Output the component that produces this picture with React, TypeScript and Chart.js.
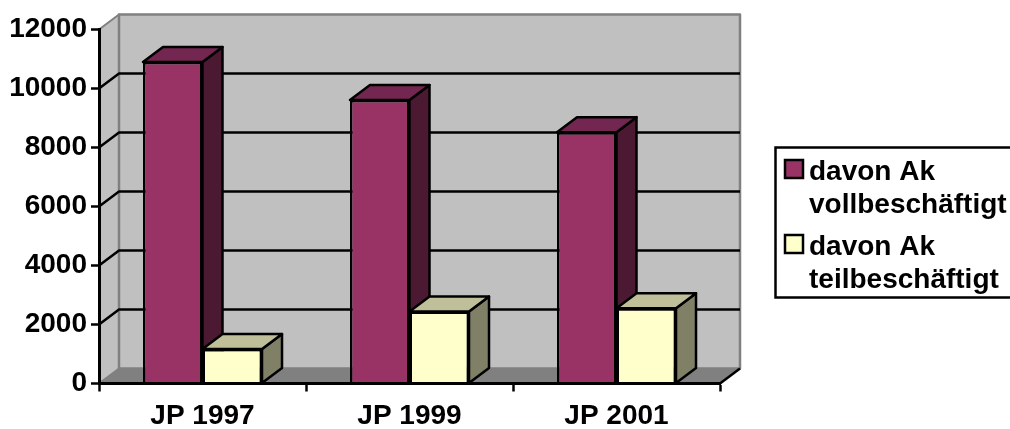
import React, { useEffect, useRef } from "react";
import { Chart, registerables } from "chart.js";

Chart.register(...registerables);

const categories = ["JP 1997", "JP 1999", "JP 2001"];
const vollbeschaeftigt = [10900, 9610, 8520];
const teilbeschaeftigt = [1170, 2440, 2550];
const legendLabels = [
  ["davon Ak", "vollbeschäftigt"],
  ["davon Ak", "teilbeschäftigt"],
];
const FONT = '"Liberation Sans", Arial, sans-serif';
const DX = 20;
const DY = -15;
const faces = [
  { front: "#993366", side: "#4C1933", top: "#732650" },
  { front: "#FFFFCC", side: "#808066", top: "#BFBF99" },
];

function poly(ctx: CanvasRenderingContext2D, pts: number[][], fill: string, stroke: string, lw: number) {
  ctx.beginPath();
  pts.forEach((p, i) => (i ? ctx.lineTo(p[0], p[1]) : ctx.moveTo(p[0], p[1])));
  ctx.closePath();
  ctx.fillStyle = fill;
  ctx.fill();
  ctx.lineWidth = lw;
  ctx.strokeStyle = stroke;
  ctx.lineJoin = "round";
  ctx.stroke();
}

const depthPlugin = {
  id: "depth",
  beforeDatasetsDraw(chart: any) {
    const { ctx, chartArea: a, scales } = chart;
    const y = scales.y;
    ctx.save();
    // floor
    poly(ctx, [[a.left, a.bottom], [a.right, a.bottom], [a.right + DX, a.bottom + DY], [a.left + DX, a.bottom + DY]], "#808080", "#808080", 1);
    // side wall
    poly(ctx, [[a.left, a.bottom], [a.left + DX, a.bottom + DY], [a.left + DX, a.top + DY], [a.left, a.top]], "#C0C0C0", "#808080", 2);
    // back wall
    poly(ctx, [[a.left + DX, a.top + DY], [a.right + DX, a.top + DY], [a.right + DX, a.bottom + DY], [a.left + DX, a.bottom + DY]], "#C0C0C0", "#808080", 2.5);
    // grid lines
    y.ticks.forEach((t: any) => {
      if (t.value === 0 || t.value === y.max) return;
      const py = y.getPixelForValue(t.value);
      ctx.beginPath();
      ctx.moveTo(a.left, py);
      ctx.lineTo(a.left + DX, py + DY);
      ctx.lineTo(a.right + DX, py + DY);
      ctx.lineWidth = 2.5;
      ctx.strokeStyle = "#000";
      ctx.stroke();
    });
    // floor right edge
    ctx.beginPath();
    ctx.moveTo(a.right, a.bottom);
    ctx.lineTo(a.right + DX, a.bottom + DY);
    ctx.lineWidth = 2.5;
    ctx.strokeStyle = "#000";
    ctx.stroke();
    // bar depth faces
    categories.forEach((_, j) => {
      [0, 1].forEach((d) => {
        const el = chart.getDatasetMeta(d).data[j];
        const l = el.x - el.width / 2;
        const r = el.x + el.width / 2;
        const t = el.y;
        const b = el.base;
        poly(ctx, [[r, t], [r + DX, t + DY], [r + DX, b + DY], [r, b]], faces[d].side, "#000", 2.5);
        poly(ctx, [[l, t], [l + DX, t + DY], [r + DX, t + DY], [r, t]], faces[d].top, "#000", 2.5);
      });
    });
    ctx.restore();
  },
  afterDraw(chart: any) {
    const { ctx } = chart;
    ctx.save();
    // legend box runs past the canvas edge as in the source
    ctx.lineWidth = 2.5;
    ctx.strokeStyle = "#000";
    ctx.fillStyle = "#fff";
    ctx.beginPath();
    ctx.rect(775.5, 147.5, 260, 150);
    ctx.fill();
    ctx.stroke();
    ctx.font = `bold 28px ${FONT}`;
    ctx.textAlign = "left";
    ctx.textBaseline = "alphabetic";
    const swatchY = [160, 235];
    const baseY = [[180, 213], [255, 288]];
    legendLabels.forEach((lines, i) => {
      ctx.fillStyle = faces[i].front;
      ctx.fillRect(785, swatchY[i], 18, 18);
      ctx.strokeStyle = "#000";
      ctx.lineWidth = 2.5;
      ctx.strokeRect(785, swatchY[i], 18, 18);
      ctx.fillStyle = "#000";
      lines.forEach((s, k) => ctx.fillText(s, 809, baseY[i][k]));
    });
    ctx.restore();
  },
};

export default function App() {
  const ref = useRef<HTMLCanvasElement>(null);
  useEffect(() => {
    document.body.style.margin = "0";
    const tickFont = { family: FONT, size: 28, weight: "bold" as const };
    const chart = new Chart(ref.current as HTMLCanvasElement, {
      type: "bar",
      data: {
        labels: categories,
        datasets: [
          { label: legendLabels[0].join(" "), data: vollbeschaeftigt, backgroundColor: faces[0].front, borderColor: "#000", borderWidth: 2.5 },
          { label: legendLabels[1].join(" "), data: teilbeschaeftigt, backgroundColor: faces[1].front, borderColor: "#000", borderWidth: 2.5 },
        ],
      },
      options: {
        responsive: false,
        animation: false,
        layout: { padding: { left: 0, top: 29.5, right: 290, bottom: 0 } },
        plugins: { legend: { display: false }, tooltip: { enabled: false }, title: { display: false } },
        datasets: { bar: { categoryPercentage: 0.575, barPercentage: 1 } },
        scales: {
          x: {
            afterFit: (s: any) => { s.height = 45.5; },
            grid: { drawOnChartArea: false, drawTicks: true, tickColor: "#000", tickWidth: 2.5, tickLength: 8 },
            border: { color: "#000", width: 3, z: 1 },
            ticks: { color: "#000", font: tickFont, padding: 8, maxRotation: 0, autoSkip: false },
          },
          y: {
            min: 0,
            max: 12000,
            afterFit: (s: any) => { s.width = 99; },
            grid: { drawOnChartArea: false, drawTicks: true, tickColor: "#000", tickWidth: 2.5, tickLength: 8 },
            border: { color: "#000", width: 3, z: 1 },
            ticks: { color: "#000", font: tickFont, stepSize: 2000, padding: 4, callback: (v: any) => String(v) },
          },
        },
      } as any,
      plugins: [depthPlugin],
    });
    return () => chart.destroy();
  }, []);
  return (
    <div style={{ width: 1010, height: 429, overflow: "hidden" }}>
      <canvas ref={ref} width={1010} height={429} style={{ display: "block" }} />
    </div>
  );
}
